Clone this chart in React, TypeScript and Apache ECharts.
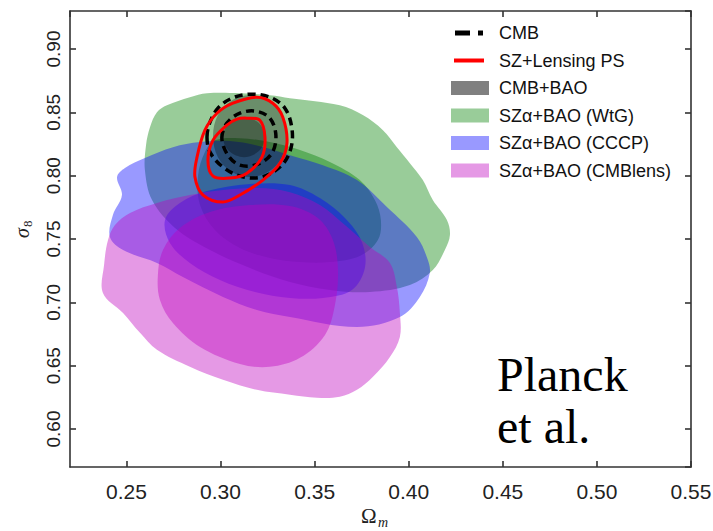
import React, { useEffect, useRef } from 'react';
import * as echarts from 'echarts';

// Axis ranges and tick labels
const X_MIN = 0.22;
const X_MAX = 0.55;
const Y_MIN = 0.57;
const Y_MAX = 0.93;
const xTickLabels = ['0.25', '0.30', '0.35', '0.40', '0.45', '0.50', '0.55'];
const yTickLabels = ['0.60', '0.65', '0.70', '0.75', '0.80', '0.85', '0.90'];

// Legend names
const legendNames = ['CMB', 'SZ+Lensing PS', 'CMB+BAO', 'SZα+BAO (WtG)', 'SZα+BAO (CCCP)', 'SZα+BAO (CMBlens)'];

// Contours [Omega_m, sigma_8]
const wtgOuter: [number, number][] = [
  [0.2625, 0.8383], [0.2662, 0.8501], [0.2715, 0.8556], [0.2837, 0.862], [0.2928, 0.8651], [0.3103, 0.8651],
  [0.3262, 0.8635], [0.3369, 0.8612], [0.3634, 0.8556], [0.3756, 0.8478], [0.3863, 0.8359], [0.3937, 0.8225],
  [0.4006, 0.8099], [0.4075, 0.7965], [0.4128, 0.7807], [0.4203, 0.765], [0.4219, 0.7531], [0.4192, 0.7413],
  [0.4128, 0.7255], [0.4006, 0.7137], [0.3794, 0.7082], [0.3581, 0.7098], [0.3369, 0.7161], [0.3156, 0.7271],
  [0.2944, 0.7413], [0.2758, 0.7587], [0.2636, 0.7807], [0.2598, 0.8044], [0.2604, 0.8241],
];
const wtgInner: [number, number][] = [
  [0.297, 0.828], [0.3103, 0.8296], [0.3262, 0.8265], [0.3422, 0.8202], [0.3581, 0.8107], [0.374, 0.7965],
  [0.382, 0.7807], [0.3852, 0.765], [0.3836, 0.7492], [0.374, 0.7366], [0.3581, 0.7318], [0.3422, 0.7318],
  [0.3262, 0.735], [0.3103, 0.7429], [0.297, 0.7571], [0.2891, 0.7768], [0.288, 0.7996], [0.2917, 0.8186],
];
const cccpOuter: [number, number][] = [
  [0.245, 0.7989], [0.2492, 0.806], [0.2598, 0.8139], [0.2747, 0.8225], [0.2891, 0.8265], [0.305, 0.8273],
  [0.3209, 0.8233], [0.3369, 0.8162], [0.3544, 0.8083], [0.3725, 0.7965], [0.3884, 0.7752], [0.4043, 0.7516],
  [0.4096, 0.7358], [0.4112, 0.7232], [0.4059, 0.7043], [0.3953, 0.6885], [0.3725, 0.6806], [0.3369, 0.6885],
  [0.3193, 0.694], [0.3013, 0.7043], [0.28, 0.72], [0.2662, 0.7311], [0.2482, 0.7413], [0.2412, 0.7516],
  [0.2428, 0.7689], [0.2476, 0.7847],
];
const cccpInner: [number, number][] = [
  [0.2705, 0.765], [0.2784, 0.7784], [0.2928, 0.7878], [0.3156, 0.7934], [0.3369, 0.7926], [0.3528, 0.7823],
  [0.3661, 0.7665], [0.3751, 0.7476], [0.3767, 0.7271], [0.3698, 0.7098], [0.3544, 0.7035], [0.3369, 0.7035],
  [0.3183, 0.7082], [0.2997, 0.7177], [0.2837, 0.7311], [0.2731, 0.7468],
];
const cmblensOuter: [number, number][] = [
  [0.2375, 0.7074], [0.2381, 0.7295], [0.2402, 0.7492], [0.2439, 0.761], [0.2519, 0.7705], [0.2662, 0.7784],
  [0.2837, 0.7847], [0.3013, 0.7886], [0.3193, 0.7902], [0.3369, 0.787], [0.3528, 0.7768], [0.3661, 0.761],
  [0.3794, 0.7437], [0.39, 0.7311], [0.3937, 0.7121], [0.3953, 0.6916], [0.3953, 0.6727], [0.39, 0.6569],
  [0.381, 0.6412], [0.3725, 0.6309], [0.3634, 0.6254], [0.3512, 0.6246], [0.3369, 0.627], [0.3193, 0.6309],
  [0.3013, 0.6388], [0.2837, 0.6491], [0.2662, 0.6625], [0.2572, 0.6759], [0.2482, 0.6916],
];
const cmblensInner: [number, number][] = [
  [0.2667, 0.7216], [0.2694, 0.7413], [0.2784, 0.7587], [0.2944, 0.7713], [0.3156, 0.7768], [0.3369, 0.776],
  [0.3517, 0.7665], [0.3597, 0.7492], [0.3624, 0.7255], [0.3608, 0.6979], [0.3555, 0.6743], [0.3422, 0.6562],
  [0.3262, 0.6491], [0.3103, 0.6514], [0.2891, 0.6648], [0.2747, 0.6837], [0.2678, 0.7019],
];
const cmbBaoOuter: [number, number][] = [
  [0.296, 0.8312], [0.2986, 0.8478], [0.3061, 0.8596], [0.3156, 0.8635], [0.3252, 0.8596], [0.3326, 0.8478],
  [0.3353, 0.8312], [0.3326, 0.8146], [0.3252, 0.8028], [0.3156, 0.7989], [0.3061, 0.8028], [0.2986, 0.8146],
];
const cmbBaoInner: [number, number][] = [
  [0.3013, 0.8304], [0.3045, 0.8415], [0.3124, 0.8462], [0.3204, 0.8415], [0.3236, 0.8304], [0.3204, 0.8194],
  [0.3124, 0.8146], [0.3045, 0.8194],
];
const cmbOuter: [number, number][] = [
  [0.2928, 0.8304], [0.2944, 0.8422], [0.2986, 0.8533], [0.3061, 0.8612], [0.3156, 0.8643], [0.3262, 0.862],
  [0.3342, 0.8533], [0.3379, 0.8375], [0.3374, 0.8217], [0.3326, 0.8083], [0.322, 0.7989], [0.3103, 0.7997],
  [0.3007, 0.8075], [0.2944, 0.8186],
];
const cmbInner: [number, number][] = [
  [0.3007, 0.8296], [0.3034, 0.8415], [0.3103, 0.8493], [0.3188, 0.8509], [0.3262, 0.8454], [0.3294, 0.832],
  [0.3273, 0.8178], [0.3199, 0.8091], [0.3103, 0.8083], [0.3039, 0.8162],
];
const szOuter: [number, number][] = [
  [0.2981, 0.8493], [0.3066, 0.8572], [0.3193, 0.862], [0.3278, 0.8572], [0.3331, 0.8462], [0.3353, 0.8257],
  [0.3316, 0.8099], [0.3225, 0.7965], [0.3103, 0.7847], [0.3013, 0.7792], [0.2907, 0.7847], [0.2864, 0.7989],
  [0.2875, 0.8146], [0.2917, 0.8359],
];
const szInner: [number, number][] = [
  [0.314, 0.8454], [0.3209, 0.8438], [0.3236, 0.8304], [0.322, 0.8146], [0.314, 0.802], [0.305, 0.7981],
  [0.296, 0.7996], [0.2933, 0.8123], [0.296, 0.828], [0.3034, 0.8399], [0.3087, 0.8446],
];

const SANS = '"Liberation Sans", Arial, Helvetica, sans-serif';
const SERIF = '"Liberation Serif", "Times New Roman", serif';

function contour(name: string, pts: [number, number][], style: any, z: number, smooth = 0.35): any {
  return {
    type: 'custom',
    name,
    silent: true,
    z,
    coordinateSystem: 'cartesian2d',
    xAxisIndex: 0,
    yAxisIndex: 0,
    itemStyle: { color: style.fill && style.fill !== 'none' ? style.fill : style.stroke },
    data: [pts[0]],
    renderItem: (_params: any, api: any) => ({
      type: 'polygon',
      shape: { points: pts.map((p) => api.coord(p)), smooth },
      style,
    }),
  };
}

const GREEN = 'rgba(0,128,0,0.4)';
const BLUE = 'rgba(0,0,255,0.4)';
const PINK = 'rgba(190,0,190,0.4)';
const GRAY = 'rgba(0,0,0,0.3)';

export default function App() {
  const ref = useRef<HTMLDivElement>(null);
  useEffect(() => {
    if (!ref.current) return;
    const chart = echarts.init(ref.current, undefined, { renderer: 'svg' });
    const fmt = (v: number) => v.toFixed(2);
    const axisLine = { show: true, lineStyle: { color: '#333', width: 1.6 } };
    const axisTick = { show: true, inside: true, length: 6, lineStyle: { color: '#333', width: 1.6 } };
    const option: any = {
      animation: false,
      backgroundColor: '#fff',
      grid: { left: 70, right: 22, top: 11, bottom: 64, containLabel: false, outerBoundsMode: 'none' },
      xAxis: [
        {
          type: 'value', min: X_MIN, max: X_MAX, splitNumber: 6, minInterval: 0.05, maxInterval: 0.05,
          position: 'bottom',
          axisLine, axisTick, splitLine: { show: false },
          axisLabel: {
            showMinLabel: false, margin: 14, fontSize: 21, fontFamily: SANS, color: '#222',
            formatter: (v: number) => (xTickLabels.includes(fmt(v)) ? fmt(v) : ''),
          },
        },
        {
          type: 'value', min: X_MIN, max: X_MAX, splitNumber: 6, minInterval: 0.05, maxInterval: 0.05,
          position: 'top', axisLine, axisTick, splitLine: { show: false }, axisLabel: { show: false },
        },
      ],
      yAxis: [
        {
          type: 'value', min: Y_MIN, max: Y_MAX, splitNumber: 7, minInterval: 0.05, maxInterval: 0.05,
          position: 'left',
          axisLine, axisTick, splitLine: { show: false },
          axisLabel: {
            showMinLabel: false, showMaxLabel: false, rotate: 90, margin: 7, fontSize: 19, fontFamily: SANS, color: '#222',
            formatter: (v: number) => (yTickLabels.includes(fmt(v)) ? fmt(v) : ''),
          },
        },
        {
          type: 'value', min: Y_MIN, max: Y_MAX, splitNumber: 7, minInterval: 0.05, maxInterval: 0.05,
          position: 'right', axisLine, axisTick, splitLine: { show: false }, axisLabel: { show: false },
        },
      ],
      legend: {
        orient: 'vertical', left: 446, top: 19, itemWidth: 38, itemHeight: 14, itemGap: 9.5,
        selectedMode: false,
        textStyle: { fontSize: 18, fontFamily: SANS, color: '#111', padding: [0, 0, 0, 5] },
        data: [
          { name: legendNames[0], icon: 'path://M0,0M38,14M4,4.5H19V9.5H4ZM27,4.5H32V9.5H27Z', itemStyle: { color: '#000', borderWidth: 0 } },
          { name: legendNames[1], icon: 'path://M0,0M38,14M3,5H33V9H3Z', itemStyle: { color: '#ff0000', borderWidth: 0 } },
          { name: legendNames[2], icon: 'rect', itemStyle: { color: '#808080', borderWidth: 0 } },
          { name: legendNames[3], icon: 'rect', itemStyle: { color: '#99cc99', borderWidth: 0 } },
          { name: legendNames[4], icon: 'rect', itemStyle: { color: '#9999ff', borderWidth: 0 } },
          { name: legendNames[5], icon: 'rect', itemStyle: { color: '#e599e5', borderWidth: 0 } },
        ],
      },
      graphic: [
        {
          type: 'text', left: 497, top: 348, z: 10,
          style: { text: 'Planck\net al.', fontSize: 48, fontFamily: SERIF, fill: '#000', lineHeight: 52 },
        },
        {
          type: 'group', x: 0, y: 0, z: 10,
          children: [
            { type: 'text', x: 361, y: 516, style: { text: 'Ω', fontSize: 21, fontFamily: SERIF, fill: '#222', verticalAlign: 'middle', align: 'left' } },
            { type: 'text', x: 378, y: 522, style: { text: 'm', fontSize: 14, fontStyle: 'italic', fontFamily: SERIF, fill: '#222', verticalAlign: 'middle', align: 'left' } },
          ],
        },
        {
          type: 'group', x: 22, y: 229, rotation: Math.PI / 2, z: 10,
          children: [
            { type: 'text', x: -9, y: 0, style: { text: 'σ', fontSize: 20, fontStyle: 'italic', fontFamily: SERIF, fill: '#222', verticalAlign: 'middle', align: 'left' } },
            { type: 'text', x: 2, y: 5, style: { text: '8', fontSize: 13, fontFamily: SERIF, fill: '#222', verticalAlign: 'middle', align: 'left' } },
          ],
        },
      ],
      series: [
        contour(legendNames[3], wtgOuter, { fill: GREEN, stroke: 'none' }, 2),
        contour(legendNames[3] + ' 1σ', wtgInner, { fill: GREEN, stroke: 'none' }, 3),
        contour(legendNames[4], cccpOuter, { fill: BLUE, stroke: 'none' }, 4),
        contour(legendNames[4] + ' 1σ', cccpInner, { fill: BLUE, stroke: 'none' }, 5),
        contour(legendNames[5], cmblensOuter, { fill: PINK, stroke: 'none' }, 6),
        contour(legendNames[5] + ' 1σ', cmblensInner, { fill: PINK, stroke: 'none' }, 7),
        contour(legendNames[2], cmbBaoOuter, { fill: GRAY, stroke: 'none' }, 8),
        contour(legendNames[2] + ' 1σ', cmbBaoInner, { fill: GRAY, stroke: 'none' }, 9),
        contour(legendNames[0], cmbOuter, { fill: 'none', stroke: '#000', lineWidth: 3.5, lineDash: [8, 5] }, 10),
        contour(legendNames[0] + ' 1σ', cmbInner, { fill: 'none', stroke: '#000', lineWidth: 3.5, lineDash: [8, 5] }, 10),
        contour(legendNames[1], szOuter, { fill: 'none', stroke: '#ff0000', lineWidth: 3 }, 11),
        contour(legendNames[1] + ' 1σ', szInner, { fill: 'none', stroke: '#ff0000', lineWidth: 3 }, 11),
      ],
    };
    chart.setOption(option);
    return () => chart.dispose();
  }, []);
  return <div ref={ref} style={{ position: 'fixed', left: 0, top: 0, width: 713, height: 531 }} />;
}
